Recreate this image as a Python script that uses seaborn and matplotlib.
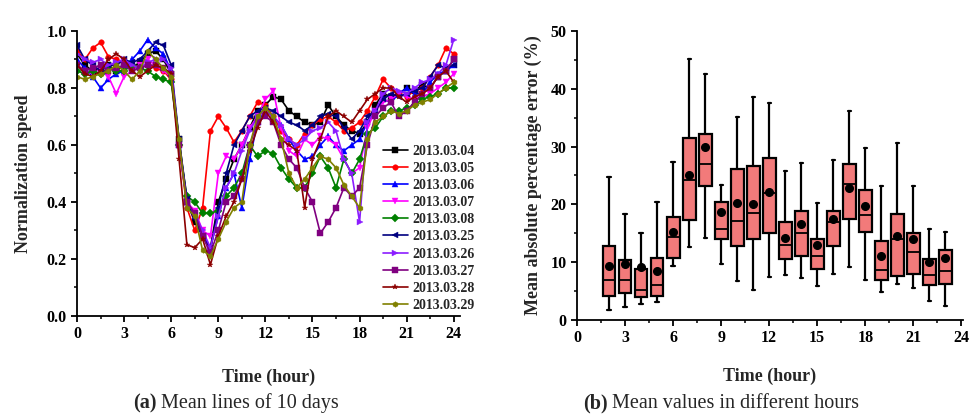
import numpy as np
import pandas as pd
import matplotlib
matplotlib.use("Agg")
import matplotlib.pyplot as plt
from matplotlib.ticker import MultipleLocator, FormatStrFormatter
import seaborn as sns

# ---- left panel: normalized speed, read every half hour ----
hours = np.arange(0, 24.5, 0.5)
days = ['2013.03.04', '2013.03.05', '2013.03.06', '2013.03.07', '2013.03.08',
        '2013.03.25', '2013.03.26', '2013.03.27', '2013.03.28', '2013.03.29']

s0304 = [0.92, 0.88, 0.86, 0.87, 0.88, 0.86, 0.88, 0.87, 0.89, 0.92, 0.93, 0.90, 0.85, 0.62, 0.40, 0.33,
         0.28, 0.24, 0.40, 0.48, 0.55, 0.60, 0.66, 0.72, 0.74, 0.77, 0.76, 0.72, 0.70, 0.68, 0.67, 0.68,
         0.74, 0.70, 0.67, 0.65, 0.64, 0.68, 0.74, 0.78, 0.77, 0.78, 0.80, 0.79, 0.81, 0.80, 0.84, 0.86, 0.90]
s0305 = [0.93, 0.90, 0.94, 0.96, 0.91, 0.90, 0.89, 0.88, 0.87, 0.88, 0.87, 0.86, 0.83, 0.60, 0.38, 0.30,
         0.38, 0.65, 0.70, 0.66, 0.61, 0.65, 0.70, 0.75, 0.74, 0.70, 0.65, 0.62, 0.60, 0.64, 0.67, 0.69,
         0.70, 0.68, 0.65, 0.66, 0.68, 0.72, 0.77, 0.83, 0.80, 0.78, 0.77, 0.79, 0.80, 0.84, 0.88, 0.94, 0.92]
s0306 = [0.90, 0.87, 0.84, 0.80, 0.83, 0.85, 0.86, 0.90, 0.93, 0.97, 0.94, 0.92, 0.86, 0.60, 0.40, 0.35,
         0.28, 0.24, 0.35, 0.45, 0.50, 0.38, 0.55, 0.68, 0.72, 0.70, 0.67, 0.62, 0.58, 0.55, 0.56, 0.60,
         0.63, 0.60, 0.58, 0.60, 0.62, 0.68, 0.72, 0.76, 0.75, 0.78, 0.80, 0.78, 0.78, 0.82, 0.85, 0.86, 0.88]
s0307 = [0.88, 0.86, 0.85, 0.87, 0.84, 0.78, 0.84, 0.86, 0.88, 0.90, 0.88, 0.86, 0.84, 0.60, 0.40, 0.37,
         0.30, 0.28, 0.50, 0.56, 0.55, 0.60, 0.66, 0.70, 0.76, 0.79, 0.66, 0.58, 0.56, 0.62, 0.60, 0.63,
         0.62, 0.60, 0.55, 0.50, 0.52, 0.66, 0.72, 0.75, 0.76, 0.78, 0.77, 0.76, 0.77, 0.78, 0.80, 0.82, 0.85]
s0308 = [0.86, 0.85, 0.86, 0.85, 0.87, 0.86, 0.86, 0.88, 0.87, 0.86, 0.84, 0.83, 0.82, 0.60, 0.42, 0.40,
         0.36, 0.36, 0.37, 0.42, 0.45, 0.50, 0.60, 0.56, 0.58, 0.57, 0.52, 0.48, 0.45, 0.45, 0.50, 0.56,
         0.52, 0.45, 0.55, 0.50, 0.55, 0.64, 0.66, 0.70, 0.72, 0.72, 0.73, 0.74, 0.76, 0.77, 0.78, 0.80, 0.80]
s0325 = [0.95, 0.90, 0.88, 0.86, 0.88, 0.88, 0.90, 0.89, 0.90, 0.93, 0.96, 0.95, 0.88, 0.62, 0.41, 0.34,
         0.28, 0.23, 0.38, 0.50, 0.60, 0.65, 0.70, 0.72, 0.73, 0.72, 0.70, 0.68, 0.67, 0.65, 0.67, 0.70,
         0.71, 0.70, 0.66, 0.62, 0.65, 0.70, 0.72, 0.76, 0.78, 0.77, 0.78, 0.79, 0.80, 0.84, 0.88, 0.87, 0.88]
s0326 = [0.92, 0.90, 0.89, 0.90, 0.88, 0.89, 0.90, 0.88, 0.87, 0.89, 0.90, 0.90, 0.87, 0.60, 0.40, 0.36,
         0.30, 0.24, 0.35, 0.45, 0.50, 0.58, 0.65, 0.70, 0.72, 0.70, 0.67, 0.62, 0.60, 0.62, 0.65, 0.66,
         0.68, 0.65, 0.55, 0.50, 0.33, 0.68, 0.72, 0.78, 0.80, 0.79, 0.78, 0.80, 0.82, 0.83, 0.85, 0.88, 0.97]
s0327 = [0.88, 0.86, 0.87, 0.88, 0.86, 0.87, 0.88, 0.86, 0.87, 0.88, 0.88, 0.87, 0.85, 0.60, 0.40, 0.36,
         0.28, 0.22, 0.30, 0.40, 0.42, 0.48, 0.60, 0.68, 0.70, 0.68, 0.60, 0.55, 0.52, 0.45, 0.40, 0.29,
         0.33, 0.38, 0.45, 0.42, 0.45, 0.60, 0.70, 0.73, 0.75, 0.70, 0.72, 0.75, 0.78, 0.80, 0.84, 0.86, 0.90]
s0328 = [0.88, 0.85, 0.84, 0.86, 0.90, 0.92, 0.90, 0.86, 0.84, 0.86, 0.88, 0.87, 0.85, 0.55, 0.25, 0.24,
         0.27, 0.18, 0.28, 0.35, 0.40, 0.48, 0.58, 0.66, 0.72, 0.68, 0.62, 0.60, 0.58, 0.38, 0.55, 0.62,
         0.70, 0.72, 0.70, 0.68, 0.72, 0.76, 0.78, 0.80, 0.80, 0.77, 0.75, 0.77, 0.78, 0.80, 0.84, 0.86, 0.82]
s0329 = [0.84, 0.83, 0.84, 0.85, 0.86, 0.88, 0.86, 0.83, 0.86, 0.93, 0.90, 0.87, 0.84, 0.62, 0.38, 0.35,
         0.23, 0.21, 0.27, 0.33, 0.38, 0.40, 0.60, 0.70, 0.73, 0.70, 0.62, 0.50, 0.45, 0.48, 0.52, 0.56,
         0.55, 0.52, 0.46, 0.42, 0.38, 0.62, 0.68, 0.70, 0.72, 0.71, 0.72, 0.74, 0.75, 0.76, 0.78, 0.80, 0.82]
series = [s0304, s0305, s0306, s0307, s0308, s0325, s0326, s0327, s0328, s0329]

colors = ['#000000', '#ff0000', '#0000ff', '#ff00ff', '#008000',
          '#000080', '#8b1cff', '#800080', '#8b0000', '#808000']
markers = ['s', 'o', '^', 'v', 'D', '<', '>', 's', '*', 'h']

# ---- right panel: MAPE box statistics per hour ----
box_hours = list(range(2, 24))
whisk_hi = [24.8, 18.3, 15.0, 20.4, 27.3, 45.1, 42.5, 23.4, 35.1, 38.5, 37.6,
            25.8, 27.1, 20.3, 27.7, 36.2, 29.8, 23.2, 30.6, 23.1, 15.8, 15.2]
q3 = [12.8, 10.4, 8.8, 10.7, 17.8, 31.4, 32.2, 20.4, 26.2, 26.6, 28.1,
      17.0, 18.9, 14.0, 18.8, 27.0, 22.5, 13.6, 18.3, 15.0, 10.6, 12.1]
med = [7.0, 6.9, 5.2, 6.0, 14.3, 24.2, 27.0, 15.7, 17.1, 18.5, 22.0,
       12.9, 15.1, 11.1, 17.0, 23.6, 18.2, 8.7, 14.0, 11.8, 7.8, 8.4]
q1 = [4.2, 4.7, 3.9, 4.2, 10.8, 17.3, 23.2, 14.0, 12.8, 14.0, 15.0,
      10.6, 11.0, 8.8, 12.8, 17.4, 15.2, 6.9, 7.6, 7.9, 6.0, 6.3]
whisk_lo = [1.7, 2.2, 2.8, 3.1, 9.3, 12.6, 14.2, 9.7, 6.7, 5.2, 7.4,
            7.8, 7.2, 5.9, 8.0, 9.1, 6.9, 4.9, 6.2, 5.5, 3.3, 2.5]
means = [9.3, 9.7, 9.2, 8.5, 15.3, 25.1, 30.0, 18.7, 20.2, 20.0, 22.1,
         14.1, 16.6, 13.0, 17.4, 22.9, 19.7, 11.1, 14.6, 14.0, 10.1, 10.8]

sns.set_theme(style="ticks")
plt.rcParams['font.family'] = ['Liberation Serif', 'DejaVu Serif']
plt.rcParams['font.weight'] = 'bold'
plt.rcParams['axes.labelweight'] = 'bold'
plt.rcParams['axes.linewidth'] = 1.3
plt.rcParams['xtick.major.width'] = 1.3
plt.rcParams['ytick.major.width'] = 1.3
plt.rcParams['xtick.minor.width'] = 1.1
plt.rcParams['ytick.minor.width'] = 1.1
plt.rcParams['xtick.major.size'] = 4
plt.rcParams['ytick.major.size'] = 4
plt.rcParams['xtick.minor.size'] = 2.5
plt.rcParams['ytick.minor.size'] = 2.5
plt.rcParams['xtick.color'] = 'black'
plt.rcParams['ytick.color'] = 'black'
plt.rcParams['axes.edgecolor'] = 'black'

fig = plt.figure(figsize=(9.74, 4.16), dpi=100)
ax1 = fig.add_axes([0.0791, 0.2404, 0.3932, 0.6851])
ax2 = fig.add_axes([0.5924, 0.2308, 0.3963, 0.6947])

for name, vals, c, m in zip(days, series, colors, markers):
    sns.lineplot(x=hours, y=vals, color=c, marker=m, markersize=4, markeredgewidth=0.3,
                 markeredgecolor=c, linewidth=1.2, label=name, ax=ax1)

ax1.set_xlim(0, 24.4)
ax1.set_ylim(0, 1.0)
ax1.xaxis.set_major_locator(MultipleLocator(3))
ax1.xaxis.set_minor_locator(MultipleLocator(1.5))
ax1.yaxis.set_major_locator(MultipleLocator(0.2))
ax1.yaxis.set_minor_locator(MultipleLocator(0.1))
ax1.yaxis.set_major_formatter(FormatStrFormatter('%.1f'))
ax1.set_xlabel('Time (hour)', fontsize=13, fontweight='bold', labelpad=19)
ax1.set_ylabel('Normalization speed', fontsize=13, fontweight='bold', labelpad=10)
ax1.tick_params(labelsize=11.5)
ax1.legend(ax1.get_lines(), days, loc='lower left', bbox_to_anchor=(0.798, 0.014),
           frameon=False, handlelength=1.8, handletextpad=0.35,
           labelspacing=0.3, borderpad=0, borderaxespad=0,
           prop={'weight': 'bold', 'size': 10})

stats = []
for i in range(len(box_hours)):
    stats.append(dict(med=med[i], q1=q1[i], q3=q3[i], whislo=whisk_lo[i],
                      whishi=whisk_hi[i], mean=means[i], fliers=[]))
ax2.bxp(stats, positions=box_hours, widths=0.8, patch_artist=True, showmeans=True,
        showfliers=False, manage_ticks=False, capwidths=0.2,
        boxprops=dict(facecolor='#f27a7a', edgecolor='black', linewidth=1.6),
        medianprops=dict(color='black', linewidth=1.3),
        whiskerprops=dict(color='black', linewidth=1.6),
        capprops=dict(color='black', linewidth=1.6),
        meanprops=dict(marker='o', markerfacecolor='black', markeredgecolor='black',
                       markersize=5.5))

ax2.set_xlim(0, 24.1)
ax2.set_ylim(0, 50)
ax2.xaxis.set_major_locator(MultipleLocator(3))
ax2.xaxis.set_minor_locator(MultipleLocator(1.5))
ax2.yaxis.set_major_locator(MultipleLocator(10))
ax2.yaxis.set_minor_locator(MultipleLocator(5))
ax2.set_xlabel('Time (hour)', fontsize=13, fontweight='bold', labelpad=15)
ax2.set_ylabel('Mean absolute percentage error (%)', fontsize=13, fontweight='bold', labelpad=6)
ax2.tick_params(labelsize=11.5)

sns.despine(ax=ax1)
sns.despine(ax=ax2)

# captions: bold panel letter followed by plain text
ta = fig.text(133 / 974, 1 - 408 / 416, '(a)', fontsize=14.5, fontweight='bold', va='baseline')
ax1.annotate('Mean lines of 10 days', xy=(1, 0), xycoords=ta, xytext=(3.5, 0),
             textcoords='offset points', fontsize=14.5, fontweight='normal',
             va='bottom', annotation_clip=False)
tb = fig.text(583 / 974, 1 - 408 / 416, '(b)', fontsize=14.5, fontweight='bold', va='baseline')
ax2.annotate('Mean values in different hours', xy=(1, 0), xycoords=tb, xytext=(3.5, 0),
             textcoords='offset points', fontsize=14.5, fontweight='normal',
             va='bottom', annotation_clip=False)

fig.savefig('out.png', dpi=100)
